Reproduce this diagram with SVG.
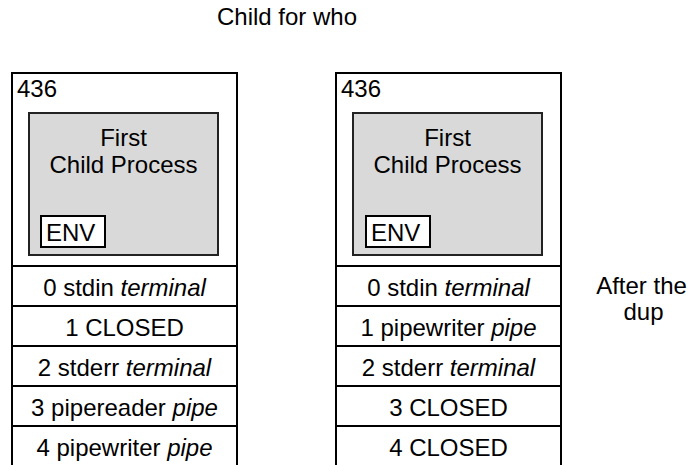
<svg xmlns="http://www.w3.org/2000/svg" width="690" height="465" viewBox="0 0 690 465">
  <style>
    text { font-family: "Liberation Sans", Arial, sans-serif; font-size: 24px; fill: #000; }
    .c { text-anchor: middle; }
    .i { font-style: italic; }
    .outer { fill: #fff; stroke: #000; stroke-width: 2; }
    .proc { fill: #d9d9d9; stroke: #222; stroke-width: 2; }
    .env { fill: #fff; stroke: #000; stroke-width: 2; }
    .sep { stroke: #000; stroke-width: 2; }
  </style>
  <rect width="690" height="465" fill="#fff"/>
  <text id="title" class="c" x="287" y="25">Child for who</text>

  <g id="before">
    <rect class="outer" x="12" y="73" width="225" height="400"/>
    <text x="17" y="97">436</text>
    <g id="before-proc">
      <rect class="proc" x="29" y="113" width="189" height="142"/>
      <text class="c" x="123.5" y="146">First</text>
      <text class="c" x="123.5" y="173">Child Process</text>
      <g id="before-env">
        <rect class="env" x="41" y="216" width="64" height="31"/>
        <text x="46" y="241">ENV</text>
      </g>
    </g>
    <g id="before-fds">
      <line class="sep" x1="12" y1="266" x2="237" y2="266"/>
      <line class="sep" x1="12" y1="306" x2="237" y2="306"/>
      <line class="sep" x1="12" y1="346" x2="237" y2="346"/>
      <line class="sep" x1="12" y1="386" x2="237" y2="386"/>
      <line class="sep" x1="12" y1="426" x2="237" y2="426"/>
      <text class="c" x="124.5" y="296">0 stdin <tspan class="i">terminal</tspan></text>
      <text class="c" x="124.5" y="336">1 CLOSED</text>
      <text class="c" x="124.5" y="376">2 stderr <tspan class="i">terminal</tspan></text>
      <text class="c" x="124.5" y="416">3 pipereader <tspan class="i">pipe</tspan></text>
      <text class="c" x="124.5" y="456">4 pipewriter <tspan class="i">pipe</tspan></text>
    </g>
  </g>

  <g id="after">
    <rect class="outer" x="336" y="73" width="225" height="400"/>
    <text x="341" y="97">436</text>
    <g id="after-proc">
      <rect class="proc" x="353" y="113" width="189" height="142"/>
      <text class="c" x="447.5" y="146">First</text>
      <text class="c" x="447.5" y="173">Child Process</text>
      <g id="after-env">
        <rect class="env" x="366" y="216" width="64" height="31"/>
        <text x="371" y="241">ENV</text>
      </g>
    </g>
    <g id="after-fds">
      <line class="sep" x1="336" y1="266" x2="561" y2="266"/>
      <line class="sep" x1="336" y1="306" x2="561" y2="306"/>
      <line class="sep" x1="336" y1="346" x2="561" y2="346"/>
      <line class="sep" x1="336" y1="386" x2="561" y2="386"/>
      <line class="sep" x1="336" y1="426" x2="561" y2="426"/>
      <text class="c" x="448.5" y="296">0 stdin <tspan class="i">terminal</tspan></text>
      <text class="c" x="448.5" y="336">1 pipewriter <tspan class="i">pipe</tspan></text>
      <text class="c" x="448.5" y="376">2 stderr <tspan class="i">terminal</tspan></text>
      <text class="c" x="448.5" y="416">3 CLOSED</text>
      <text class="c" x="448.5" y="456">4 CLOSED</text>
    </g>
  </g>

  <g id="note">
    <text class="c" x="641.5" y="294">After the</text>
    <text class="c" x="643.5" y="320">dup</text>
  </g>
  <g id="connectors"></g>
</svg>
